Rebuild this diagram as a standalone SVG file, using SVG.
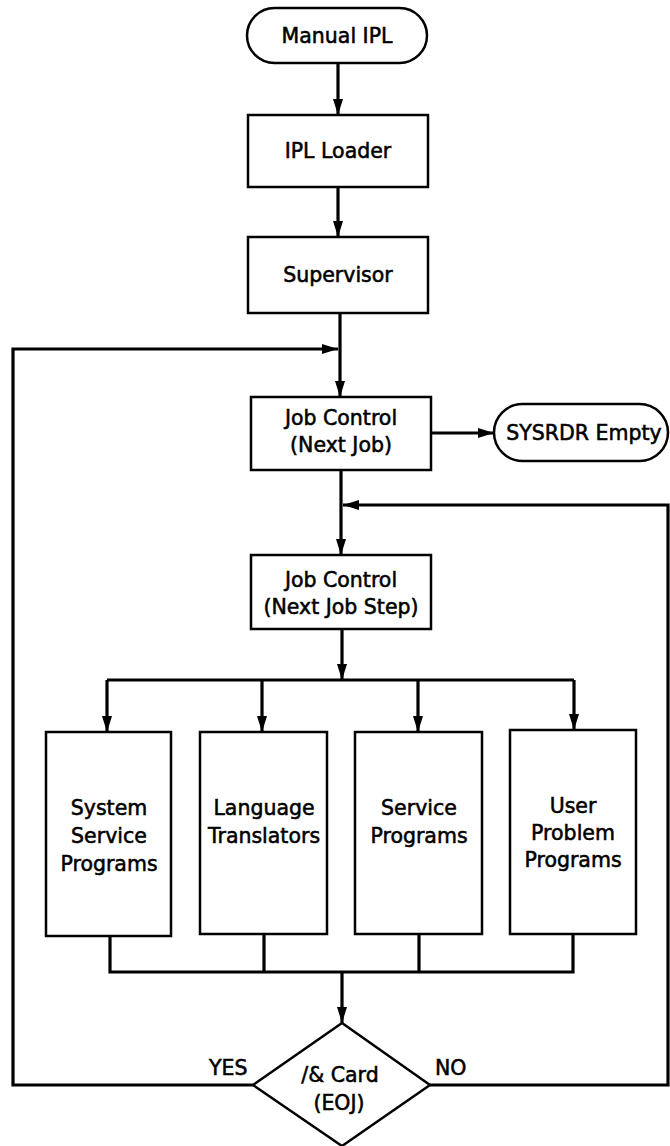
<svg xmlns="http://www.w3.org/2000/svg" width="670" height="1146" viewBox="0 0 670 1146">
  <style>
    .box { fill: #fff; stroke: #000; stroke-width: 2.5; }
    .wire { fill: none; stroke: #000; stroke-width: 3.2; stroke-linejoin: miter; }
    .arrow { marker-end: url(#head); }
    text { font-family: "DejaVu Sans", "Liberation Sans", sans-serif; font-size: 20.5px; fill: #000; stroke: #000; stroke-width: 0.55; text-anchor: middle; }
    .lbl { text-anchor: start; }
  </style>
  <defs>
    <marker id="head" viewBox="0 0 16 10" refX="16" refY="5" markerWidth="16" markerHeight="10" markerUnits="userSpaceOnUse" orient="auto">
      <path d="M0,0 L16,5 L0,10 Z" fill="#000"/>
    </marker>
  </defs>

  <!-- flow lines -->
  <g id="connectors">
    <path class="wire arrow" d="M338,62 V115"/>
    <path class="wire arrow" d="M338,187 V237"/>
    <path class="wire arrow" d="M340,313 V397"/>
    <path class="wire arrow" d="M431,433 H494"/>
    <path class="wire arrow" d="M341,470 V555"/>
    <path class="wire arrow" d="M342,629 V680"/>
    <!-- fan-out to the four program groups -->
    <path class="wire" d="M107,680 H574"/>
    <path class="wire arrow" d="M107,680 V732"/>
    <path class="wire arrow" d="M262,680 V732"/>
    <path class="wire arrow" d="M418,680 V732"/>
    <path class="wire arrow" d="M574,680 V730"/>
    <!-- fan-in to the end-of-job test -->
    <path class="wire" d="M110,936 V972 H573 V934"/>
    <path class="wire" d="M264,934 V972"/>
    <path class="wire" d="M419,934 V972"/>
    <path class="wire arrow" d="M342,972 V1023"/>
    <!-- YES: back to next job -->
    <path class="wire arrow" d="M253,1085 H13 V349 H338"/>
    <!-- NO: back to next job step -->
    <path class="wire arrow" d="M430,1085 H668 V505 H343"/>
  </g>

  <g id="manual-ipl">
    <rect class="box" x="247" y="8" width="180" height="55" rx="27.5"/>
    <text x="337" y="43">Manual IPL</text>
  </g>
  <g id="ipl-loader">
    <rect class="box" x="248" y="115" width="180" height="72"/>
    <text x="338" y="158">IPL Loader</text>
  </g>
  <g id="supervisor">
    <rect class="box" x="248" y="237" width="180" height="76"/>
    <text x="338" y="282">Supervisor</text>
  </g>
  <g id="job-control-job">
    <rect class="box" x="251" y="397" width="180" height="73"/>
    <text x="341" y="425">Job Control</text>
    <text x="341" y="452">(Next Job)</text>
  </g>
  <g id="sysrdr-empty">
    <rect class="box" x="494" y="404" width="174" height="57" rx="28.5"/>
    <text x="584" y="440">SYSRDR Empty</text>
  </g>
  <g id="job-control-step">
    <rect class="box" x="251" y="555" width="180" height="74"/>
    <text x="341" y="587">Job Control</text>
    <text x="341" y="614">(Next Job Step)</text>
  </g>
  <g id="system-service">
    <rect class="box" x="46" y="732" width="125" height="204"/>
    <text x="109" y="815">System</text>
    <text x="109" y="843">Service</text>
    <text x="109" y="871">Programs</text>
  </g>
  <g id="language-translators">
    <rect class="box" x="200" y="732" width="127" height="202"/>
    <text x="264" y="815">Language</text>
    <text x="264" y="843">Translators</text>
  </g>
  <g id="service-programs">
    <rect class="box" x="355" y="732" width="127" height="202"/>
    <text x="419" y="815">Service</text>
    <text x="419" y="843">Programs</text>
  </g>
  <g id="user-problem">
    <rect class="box" x="510" y="730" width="126" height="204"/>
    <text x="573" y="813">User</text>
    <text x="573" y="840">Problem</text>
    <text x="573" y="867">Programs</text>
  </g>
  <g id="eoj-test">
    <path class="box" d="M342,1023 L430,1085 L342,1146 L253,1085 Z"/>
    <text x="340" y="1082">/&amp; Card</text>
    <text x="339" y="1110">(EOJ)</text>
    <text class="lbl" x="209" y="1075">YES</text>
    <text class="lbl" x="435" y="1075">NO</text>
  </g>
</svg>
